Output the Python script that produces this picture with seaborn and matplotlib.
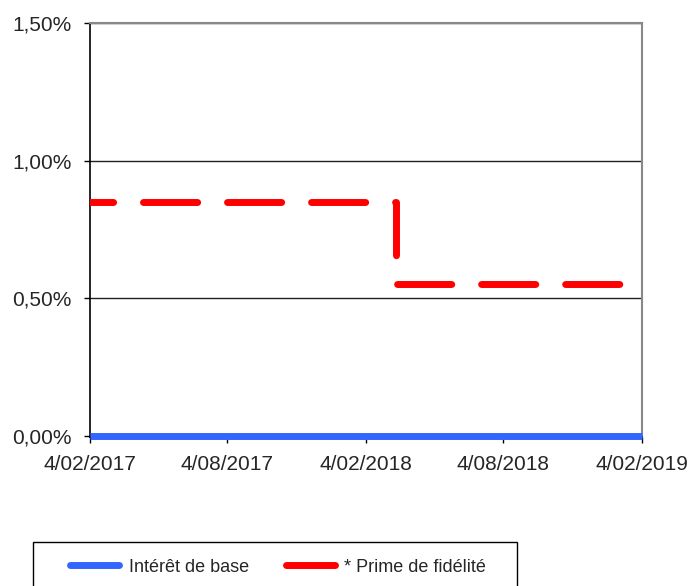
import numpy as np
import pandas as pd
import matplotlib
matplotlib.use('Agg')
import matplotlib.pyplot as plt
import matplotlib.dates as mdates
from matplotlib.patches import Rectangle
from matplotlib.ticker import FuncFormatter, FixedLocator
import seaborn as sns

# series values
base_dates = ['2017-02-04', '2019-02-04']
base_rates = [0.0, 0.0]
prime_dates = ['2017-02-04', '2018-03-16', '2019-02-04']
prime_rates = [0.0085, 0.0055, 0.0055]
series_labels = ['Intérêt de base', '* Prime de fidélité']

# axis ticks
x_ticks = ['2017-02-04', '2017-08-04', '2018-02-04', '2018-08-04', '2019-02-04']
x_tick_labels = ['4/02/2017', '4/08/2017', '4/02/2018', '4/08/2018', '4/02/2019']
y_ticks = [0.0, 0.005, 0.010, 0.015]


def pct_fmt(v, pos):
    return f'{v * 100:.2f}%'.replace('.', ',')


sns.set_style('white')
plt.rcParams['font.family'] = ['Liberation Sans', 'DejaVu Sans']

fig = plt.figure(figsize=(6.92, 5.86), dpi=100)
ax = fig.add_axes([90 / 692, 1 - 437 / 586, 552 / 692, 414 / 586])

df_base = pd.DataFrame({'date': pd.to_datetime(base_dates), 'rate': base_rates})
df_prime = pd.DataFrame({'date': pd.to_datetime(prime_dates), 'rate': prime_rates})

sns.lineplot(data=df_base, x='date', y='rate', ax=ax, color='#3366FF', linewidth=5,
             solid_capstyle='butt', label=series_labels[0], clip_on=False, zorder=4)
sns.lineplot(data=df_prime, x='date', y='rate', ax=ax, color='#FF0000', linewidth=5,
             drawstyle='steps-post', linestyle=(4.47, (7.8, 4.3)),
             dash_capstyle='round', solid_capstyle='round', label=series_labels[1], zorder=3)

ax.set_xlim(pd.Timestamp(x_ticks[0]), pd.Timestamp(x_ticks[-1]))
ax.set_ylim(y_ticks[0] - 0.00005, y_ticks[-1])
ax.xaxis.set_major_locator(FixedLocator(mdates.date2num(pd.to_datetime(x_ticks))))
ax.set_xticklabels(x_tick_labels)
ax.yaxis.set_major_locator(FixedLocator(y_ticks))
ax.yaxis.set_major_formatter(FuncFormatter(pct_fmt))
ax.set_xlabel('')
ax.set_ylabel('')

ax.yaxis.grid(True, color='#222222', linewidth=1.0)
ax.xaxis.grid(False)
ax.tick_params(axis='both', which='major', labelsize=15, length=4, width=1,
               color='black', direction='out')
ax.tick_params(axis='x', bottom=True, pad=9)
ax.tick_params(axis='y', left=True, pad=9)

for side in ['top', 'right']:
    ax.spines[side].set_color('#888888')
    ax.spines[side].set_linewidth(1.5)
for side in ['left', 'bottom']:
    ax.spines[side].set_color('black')
    ax.spines[side].set_linewidth(1.2)

ax.get_legend().remove()
handles, labels = ax.get_legend_handles_labels()
leg = fig.legend(handles, labels, loc='center left', bbox_to_anchor=(70 / 692, 1 - 567 / 586),
                 ncol=2, frameon=False, fontsize=13, handlelength=2.7, handletextpad=0.55,
                 columnspacing=2.05, borderpad=0, borderaxespad=0)
for ln in leg.get_lines():
    ln.set_linestyle('-')
    ln.set_solid_capstyle('round')

fig.add_artist(Rectangle((33 / 692, -0.05), (517 - 33) / 692, 1 - 542 / 586 + 0.05,
                         transform=fig.transFigure, fill=False, edgecolor='black',
                         linewidth=1.0, clip_on=False))

fig.savefig('out.png', dpi=100)
